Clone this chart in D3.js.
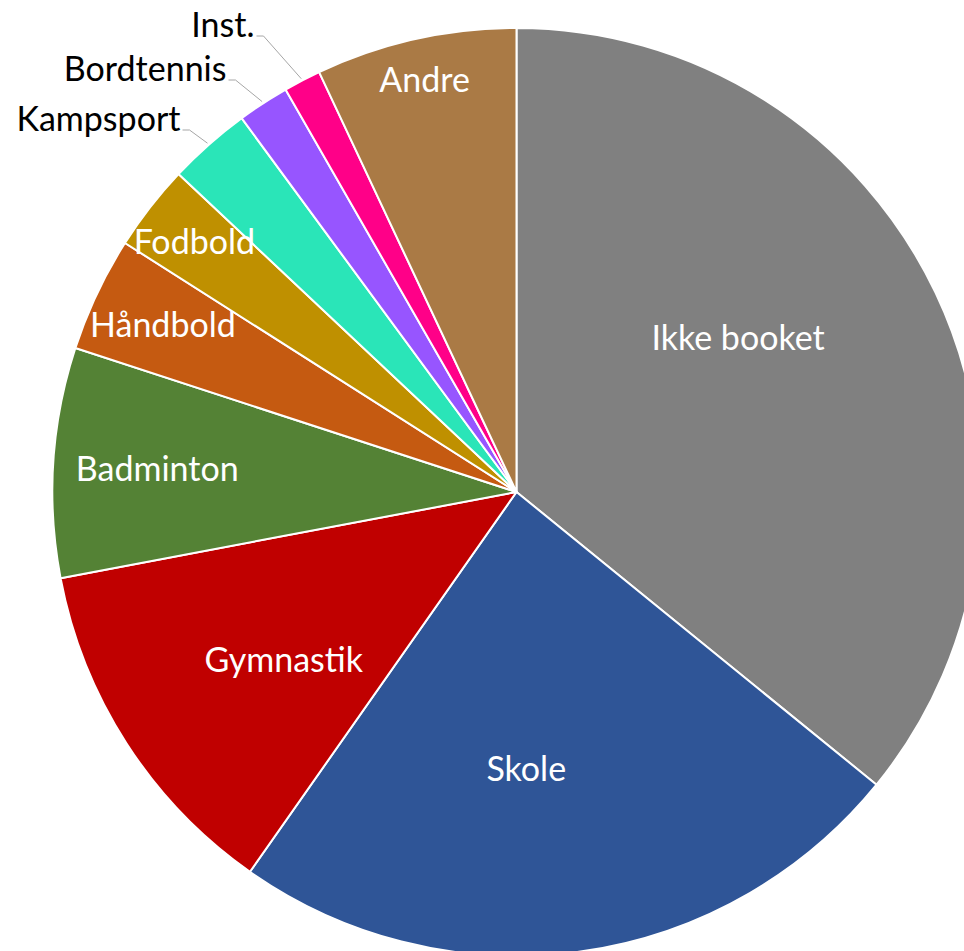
<!DOCTYPE html>
<html>
<head>
<meta charset="utf-8">
<script src="https://cdn.jsdelivr.net/npm/d3@7"></script>
<style>
  html, body { margin: 0; padding: 0; background: #fff; overflow: hidden; }
  svg { display: block; }
  text { font-family: Lato, "Open Sans", sans-serif; }
</style>
</head>
<body>
<svg id="chart" width="964" height="951"></svg>
<script>
// ---- data ----
const categories = ["Ikke booket", "Skole", "Gymnastik", "Badminton", "Håndbold", "Fodbold", "Kampsport", "Bordtennis", "Inst.", "Andre"];
const values = [35.9, 23.9, 12.3, 8.0, 4.0, 3.0, 2.9, 1.8, 1.3, 7.0];
const colors = ["#808080", "#2F5597", "#C00000", "#548235", "#C55A11", "#BF9000", "#2AE5B8", "#9755FF", "#FF0088", "#AA7A45"];

// ---- layout (label placement) ----
const labelInside = [true, true, true, true, true, true, false, false, false, true];
const labelRadius = [270, 277, 287, 360, 391, 408, 0, 0, 0, 422];
const labelAngleShift = [-9.4, 5.9, -3, 0, 0, 0, 0, 0, 0, 0];
// outside labels: text anchor end point relative to pie centre
const outsideLabel = { 6: [-336, -362], 7: [-290, -412], 8: [-262, -456] };

const W = 964, H = 951;
const cx = 516.5, cy = 492, R = 464;
const fontSize = 34;

const svg = d3.select("#chart");
const g = svg.append("g").attr("transform", `translate(${cx},${cy})`);

const pie = d3.pie().value(d => d.v).sort(null);
const data = categories.map((c, i) => ({ c, v: values[i], i }));
const arcs = pie(data);
const arc = d3.arc().innerRadius(0).outerRadius(R);

g.selectAll("path.slice")
  .data(arcs)
  .join("path")
  .attr("class", "slice")
  .attr("d", arc)
  .attr("fill", d => colors[d.data.i])
  .attr("stroke", "#fff")
  .attr("stroke-width", 2)
  .attr("stroke-linejoin", "round");

const rad = Math.PI / 180;

// inside labels
arcs.filter(d => labelInside[d.data.i]).forEach(d => {
  const i = d.data.i;
  const a = (d.startAngle + d.endAngle) / 2 + labelAngleShift[i] * rad;
  const r = labelRadius[i];
  g.append("text")
    .attr("x", r * Math.sin(a))
    .attr("y", -r * Math.cos(a))
    .attr("dy", "0.35em")
    .attr("text-anchor", "middle")
    .attr("fill", "#fff")
    .attr("font-size", fontSize)
    .text(d.data.c);
});

// outside labels with leader lines
arcs.filter(d => !labelInside[d.data.i]).forEach(d => {
  const i = d.data.i;
  const a = (d.startAngle + d.endAngle) / 2;
  const [tx, ty] = outsideLabel[i];
  const ex = (R + 2) * Math.sin(a), ey = -(R + 2) * Math.cos(a);
  g.append("polyline")
    .attr("points", [[tx + 2, ty], [tx + 9, ty], [ex, ey]].map(p => p.join(",")).join(" "))
    .attr("fill", "none")
    .attr("stroke", "#a6a6a6")
    .attr("stroke-width", 1);
  g.append("text")
    .attr("x", tx)
    .attr("y", ty)
    .attr("dy", "0.04em")
    .attr("text-anchor", "end")
    .attr("fill", "#000")
    .attr("font-size", fontSize)
    .text(d.data.c);
});
</script>
</body>
</html>
